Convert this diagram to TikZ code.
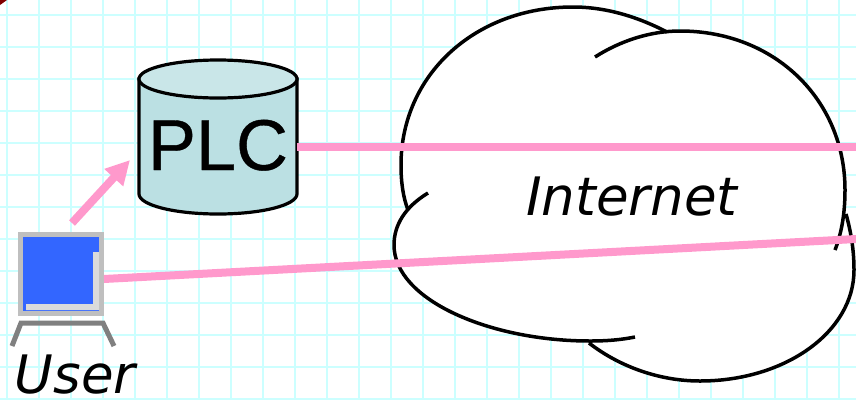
\documentclass[tikz,border=0pt]{standalone}
\usepackage{fontspec}
\setmainfont{DejaVu Sans}
\newfontfamily\plcfont[FakeBold=0.5]{Liberation Sans}
\usetikzlibrary{arrows.meta}
\definecolor{gridcyan}{HTML}{CCFFFF}
\definecolor{linkpink}{HTML}{FF99CC}
\definecolor{plcbody}{HTML}{BBE0E3}
\definecolor{plctop}{HTML}{C9E6E8}
\definecolor{screenblue}{HTML}{3366FF}
\definecolor{cornerred}{HTML}{800000}

\begin{document}
\begin{tikzpicture}[x=1pt, y=-1pt,
gridline/.style={draw=gridcyan,line width=2.4pt},
link/.style={draw=linkpink,line width=8pt},
cloudline/.style={draw=black,line width=3.5pt},
plcline/.style={draw=black,line width=3.2pt},
plctext/.style={font=\plcfont\fontsize{72}{72}\selectfont,anchor=base,inner sep=0pt,minimum width=158pt},
monitor/.style={rectangle,draw=black!25,fill=screenblue,line width=5pt,inner sep=0pt,
  minimum width=81pt,minimum height=79pt},
slanted/.style={font=\fontsize{53}{53}\selectfont\itshape,anchor=base,inner sep=0pt},
]
\useasboundingbox (0,0) rectangle (856,400);
\fill[white] (0,0) rectangle (856,400);

\foreach \gx in {7,39,...,839} \draw[gridline] (\gx,0) -- (\gx,400);
\foreach \gy in {15,47,...,399} \draw[gridline] (0,\gy) -- (856,\gy);
\fill[cornerred] (0,0) -- (7,0) -- (0,5) -- cycle;

%% cloud
\fill[white] (667,32) .. controls (640,18) and (608,7) .. (573,7)
  .. controls (475,7) and (401,75) .. (401,165)
  .. controls (401,182) and (403,197) .. (408,210)
  -- (428,193) .. controls (405,207) and (394,225) .. (394,245)
  .. controls (394,300) and (490,341) .. (590,341)
  .. controls (606,341) and (620,340) .. (635,337)
  -- (589,343) .. controls (620,367) and (660,381) .. (700,381)
  .. controls (785,381) and (854,332) .. (854,270)
  .. controls (854,250) and (851,232) .. (846,214)
  -- (845,190) .. controls (845,100) and (775,31) .. (680,31) -- cycle;
\draw[cloudline] (667,32) .. controls (640,18) and (608,7) .. (573,7)
  .. controls (475,7) and (401,75) .. (401,165)
  .. controls (401,182) and (403,197) .. (408,210);
\draw[cloudline] (428,193) .. controls (405,207) and (394,225) .. (394,245)
  .. controls (394,300) and (490,341) .. (590,341)
  .. controls (606,341) and (620,340) .. (635,337);
\draw[cloudline] (589,343) .. controls (620,367) and (660,381) .. (700,381)
  .. controls (785,381) and (854,332) .. (854,270)
  .. controls (854,250) and (851,232) .. (846,214);
\draw[cloudline] (835,250) .. controls (842,232) and (845,212) .. (845,190)
  .. controls (845,100) and (775,31) .. (680,31)
  .. controls (650,31) and (620,41) .. (595,57);
\node[slanted] (internet) at (632,215) {Internet};

%% plc drum
\draw[plcline,fill=plcbody] (139,79) -- (139,194) .. controls (139,205) and (174,214) .. (218,214)
  .. controls (262,214) and (297,205) .. (297,194) -- (297,79) -- cycle;
\draw[plcline,fill=plctop] (218,79) ellipse [x radius=79pt,y radius=19pt];
\node[plctext] (plc) at (218,170) {PLC};

%% user terminal
\node[monitor] (user) at (61,274) {};
\fill[black!14] (93,252) rectangle (99,310) (26,304) rectangle (99,310);
\draw[draw=black!50,line width=5pt] (12,346) -- (21,323) -- (103,323) -- (114,346);
\node[slanted] (userlabel) at (75,393) {User};

\coordinate (plcend) at (856,147);
\coordinate (userend) at (856,239);
\coordinate (userport) at (104,279);
\coordinate (arrowfoot) at (72,223);
\coordinate (arrowtip) at (130,160);
\draw[link] (plc.east |- plcend) -- (plcend);
\draw[link] (userport) -- (userend);
\draw[link,-{Triangle[length=24pt,width=24pt]}] (arrowfoot) -- (arrowtip);
\end{tikzpicture}
\end{document}
